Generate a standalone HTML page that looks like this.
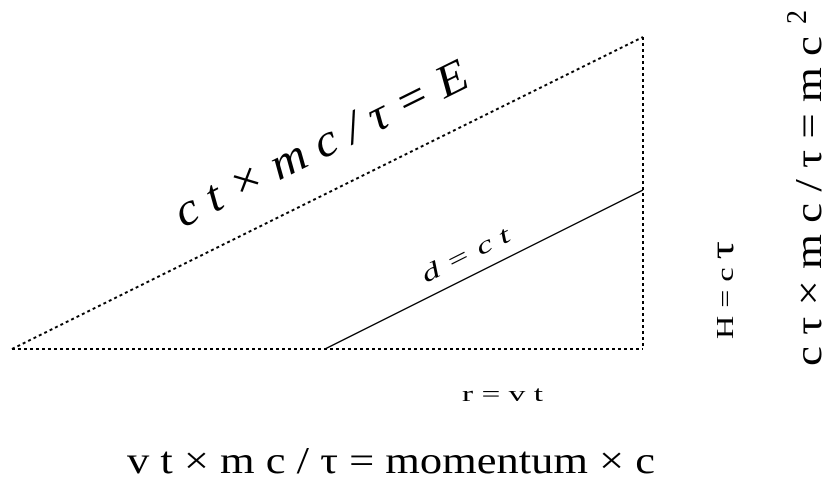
<!DOCTYPE html>
<html><head><style>body{margin:0;background:#fff}svg{display:block}</style></head>
<body>
<svg width="832" height="482" viewBox="0 0 832 482" font-family="Liberation Serif, serif">
<g stroke="#000" stroke-width="2" stroke-dasharray="3,3" fill="none">
<line x1="12" y1="349" x2="643" y2="37"/>
<line x1="643" y1="37" x2="643" y2="349"/>
<line x1="12" y1="349" x2="643" y2="349"/>
</g>
<line x1="325" y1="349" x2="643" y2="190" stroke="#000" stroke-width="1.3"/>
<text transform="translate(183,228) rotate(-26.3)" font-size="46" font-style="italic" textLength="322" lengthAdjust="spacingAndGlyphs" xml:space="preserve">c t × m c / τ = E</text>
<text transform="translate(426,283) rotate(-26.6)" font-size="24" font-style="italic" textLength="96" lengthAdjust="spacingAndGlyphs" xml:space="preserve">d = c t</text>
<text transform="translate(733,339) rotate(-90)" font-size="24" textLength="98" lengthAdjust="spacingAndGlyphs" xml:space="preserve">H = c <tspan font-size="34">τ</tspan></text>
<text transform="translate(821,366) rotate(-90)" font-size="38" textLength="330" lengthAdjust="spacingAndGlyphs" xml:space="preserve">c τ × m c / τ = m c</text>
<text transform="translate(806,24) rotate(-90)" font-size="28">2</text>
<text x="462" y="401" font-size="22" textLength="81" lengthAdjust="spacingAndGlyphs" xml:space="preserve">r = v t</text>
<text x="127" y="473" font-size="38" textLength="528" lengthAdjust="spacingAndGlyphs" xml:space="preserve">v t × m c / τ = momentum × c</text>
</svg>
</body></html>
